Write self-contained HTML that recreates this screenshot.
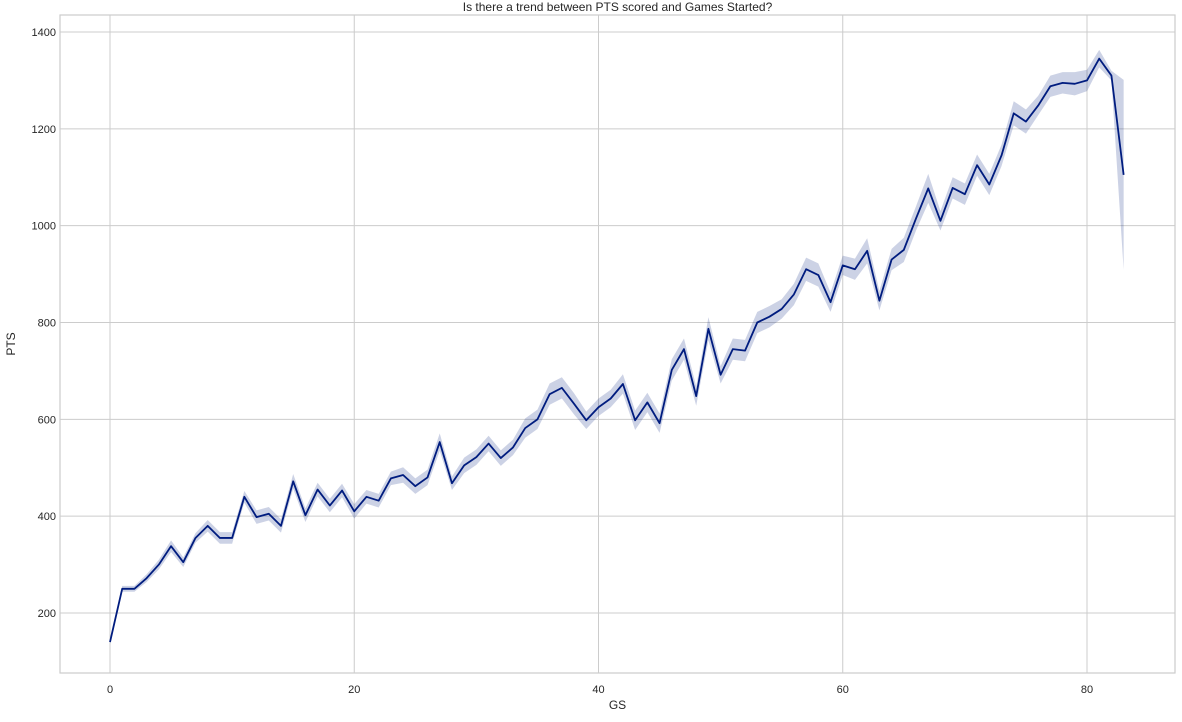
<!DOCTYPE html>
<html><head><meta charset="utf-8">
<style>
body{margin:0;background:#fff;font-family:"Liberation Sans",sans-serif;}
svg text{font-family:"Liberation Sans",sans-serif;fill:#262626;}
</style></head>
<body>
<svg id="chart" width="1182" height="717"></svg>
<script>
const gsValues=[0,1,2,3,4,5,6,7,8,9,10,11,12,13,14,15,16,17,18,19,20,21,22,23,24,25,26,27,28,29,30,31,32,33,34,35,36,37,38,39,40,41,42,43,44,45,46,47,48,49,50,51,52,53,54,55,56,57,58,59,60,61,62,63,64,65,66,67,68,69,70,71,72,73,74,75,76,77,78,79,80,81,82,83];
const ptsValues=[140,250,250,272,300,338,305,355,380,355,355,440,398,405,380,472,402,455,422,453,410,440,432,478,485,462,480,553,468,505,522,550,520,542,582,600,652,665,632,598,625,643,673,598,635,592,702,745,648,787,692,745,742,800,812,828,858,910,898,842,918,910,948,845,930,950,1015,1077,1010,1078,1065,1125,1085,1145,1232,1215,1248,1288,1295,1293,1300,1345,1310,1105];
const ciHalf=[3,6,6,8,10,12,10,10,12,12,12,12,14,14,14,15,14,14,14,14,15,14,14,14,16,16,16,18,14,16,16,16,16,16,20,20,22,22,22,18,18,18,20,20,20,20,22,22,20,24,18,22,22,22,22,20,22,24,24,20,20,22,26,20,22,25,25,30,20,22,22,22,22,22,25,25,20,22,22,24,22,18,10,196];
const xTicks=[0,20,40,60,80];
const yTicks=[200,400,600,800,1000,1200,1400];

const NS="http://www.w3.org/2000/svg";
const svg=document.getElementById('chart');
const L=60,R=1175,T=15,B=673;
const xs=v=>110+v*(1087-110)/80;
const ys=v=>613-(v-200)*(613-32)/1200;
function mk(tag,attrs,parent){const e=document.createElementNS(NS,tag);for(const k in attrs)e.setAttribute(k,attrs[k]);(parent||svg).appendChild(e);return e;}

const bg=mk('rect',{x:L,y:T,width:R-L,height:B-T,fill:'#fff'});



xTicks.forEach(t=>{
  const g=mk('line',{x1:xs(t),x2:xs(t),y1:T,y2:B,stroke:'#cccccc','stroke-width':1});
  
  
  const tx=mk('text',{x:xs(t),y:B+20,'text-anchor':'middle','font-size':11});
  tx.textContent=t;
  
  
});
yTicks.forEach(t=>{
  const g=mk('line',{x1:L,x2:R,y1:ys(t),y2:ys(t),stroke:'#cccccc','stroke-width':1});
  
  
  const tx=mk('text',{x:L-4,y:ys(t)+4,'text-anchor':'end','font-size':11});
  tx.textContent=t;
  
  
});

let up=gsValues.map((g,i)=>xs(g)+','+ys(ptsValues[i]+ciHalf[i]));
let lo=gsValues.map((g,i)=>xs(g)+','+ys(ptsValues[i]-ciHalf[i])).reverse();
const band=mk('polygon',{points:up.concat(lo).join(' '),fill:'#001c7f','fill-opacity':0.2,stroke:'none'});



const line=mk('polyline',{points:gsValues.map((g,i)=>xs(g)+','+ys(ptsValues[i])).join(' '),fill:'none',stroke:'#001c7f','stroke-width':1.8,'stroke-linejoin':'round'});



const frame=mk('rect',{x:L,y:T,width:R-L,height:B-T,fill:'none',stroke:'#cccccc','stroke-width':1.2});



const title=mk('text',{x:(L+R)/2,y:11,'text-anchor':'middle','font-size':12});
title.textContent='Is there a trend between PTS scored and Games Started?';



const xl=mk('text',{x:(L+R)/2,y:709,'text-anchor':'middle','font-size':12});
xl.textContent='GS';



const yl=mk('text',{x:15,y:(T+B)/2,'text-anchor':'middle','font-size':12,transform:'rotate(-90 15 '+((T+B)/2)+')'});
yl.textContent='PTS';


</script>
</body></html>
